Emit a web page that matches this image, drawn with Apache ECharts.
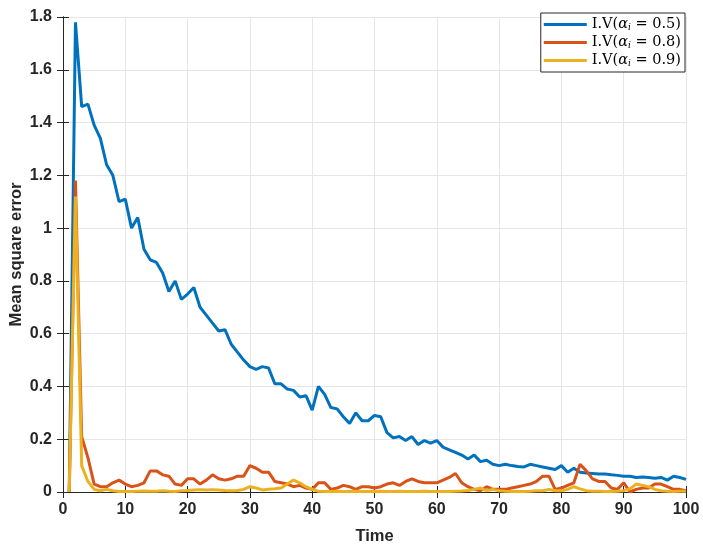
<!DOCTYPE html>
<html>
<head>
<meta charset="utf-8">
<script src="https://cdn.jsdelivr.net/npm/echarts@6/dist/echarts.min.js"></script>
<style>
  html, body { margin: 0; padding: 0; background: #fff; }
  #chart { width: 703px; height: 549px; }
</style>
</head>
<body>
<div id="chart"></div>
<script>
// time steps 1..100
const steps = Array.from({ length: 100 }, (_, i) => i + 1)

// alpha_i = 0.5
const blueVals = [
  0, 1.78, 1.46, 1.47, 1.39, 1.34, 1.24, 1.20, 1.10, 1.11,
  1.00, 1.04, 0.92, 0.88, 0.87, 0.83, 0.76, 0.80, 0.73, 0.75,
  0.775, 0.70, 0.67, 0.64, 0.61, 0.615, 0.56, 0.53, 0.50, 0.475,
  0.465, 0.475, 0.47, 0.41, 0.41, 0.39, 0.385, 0.36, 0.365, 0.31,
  0.40, 0.37, 0.32, 0.315, 0.285, 0.26, 0.30, 0.27, 0.27, 0.29,
  0.285, 0.225, 0.205, 0.21, 0.195, 0.21, 0.18, 0.195, 0.185, 0.195,
  0.17, 0.16, 0.15, 0.14, 0.125, 0.14, 0.115, 0.12, 0.105, 0.10,
  0.105, 0.10, 0.097, 0.095, 0.105, 0.10, 0.095, 0.09, 0.085, 0.10,
  0.075, 0.09, 0.075, 0.072, 0.07, 0.068, 0.068, 0.065, 0.063, 0.06,
  0.06, 0.055, 0.057, 0.055, 0.052, 0.055, 0.045, 0.06, 0.055, 0.048
]

// alpha_i = 0.8
const orangeVals = [
  0, 1.18, 0.21, 0.13, 0.03, 0.02, 0.02, 0.035, 0.045, 0.03,
  0.02, 0.025, 0.035, 0.08, 0.08, 0.065, 0.06, 0.03, 0.025, 0.05,
  0.05, 0.03, 0.045, 0.065, 0.05, 0.045, 0.05, 0.06, 0.06, 0.10,
  0.09, 0.075, 0.075, 0.04, 0.035, 0.03, 0.02, 0.025, 0.015, 0.01,
  0.035, 0.035, 0.01, 0.015, 0.025, 0.02, 0.01, 0.02, 0.02, 0.015,
  0.02, 0.03, 0.035, 0.025, 0.04, 0.05, 0.04, 0.035, 0.035, 0.035,
  0.045, 0.055, 0.07, 0.035, 0.02, 0.01, 0.005, 0.02, 0.01, 0.01,
  0.01, 0.015, 0.02, 0.025, 0.03, 0.04, 0.06, 0.06, 0.01, 0.015,
  0.025, 0.035, 0.105, 0.08, 0.05, 0.04, 0.04, 0.015, 0.01, 0.035,
  0.0, 0.01, 0.015, 0.015, 0.03, 0.03, 0.02, 0.01, 0.01, 0.005
]

// alpha_i = 0.9
const yellowVals = [
  0, 1.12, 0.10, 0.04, 0.01, 0.005, 0.01, 0.005, 0.002, 0.002,
  0.002, 0.003, 0.004, 0.003, 0.003, 0.005, 0.003, 0.002, 0.005, 0.006,
  0.008, 0.009, 0.008, 0.009, 0.008, 0.006, 0.005, 0.006, 0.01, 0.02,
  0.015, 0.008, 0.01, 0.012, 0.015, 0.03, 0.045, 0.035, 0.02, 0.01,
  0.003, 0.002, 0.002, 0.003, 0.002, 0.002, 0.003, 0.002, 0.002, 0.002,
  0.003, 0.002, 0.002, 0.003, 0.002, 0.002, 0.002, 0.003, 0.002, 0.002,
  0.002, 0.002, 0.003, 0.004, 0.006, 0.01, 0.015, 0.005, 0.01, 0.005,
  0.003, 0.002, 0.002, 0.002, 0.003, 0.005, 0.005, 0.01, 0.005, 0.005,
  0.01, 0.02, 0.012, 0.005, 0.003, 0.003, 0.002, 0.002, 0.003, 0.005,
  0.012, 0.03, 0.025, 0.02, 0.01, 0.005, 0.003, 0.002, 0.003, 0.003
]

const seriesNames = ['0.5', '0.8', '0.9']

const pairs = (vals) => vals.map((v, i) => [steps[i], v])

const chart = echarts.init(document.getElementById('chart'))

const gridLine = { show: true, lineStyle: { color: '#e6e6e6', width: 1 } }
const tickIn = { show: true, inside: true, length: 6, lineStyle: { color: '#262626' } }
const axisLineStyle = { show: true, lineStyle: { color: '#262626', width: 1 } }
const tickFont = { fontFamily: 'Liberation Sans', fontSize: 16, fontWeight: 'bold', color: '#262626' }

const options = {
  animation: false,
  color: ['#0072BD', '#D95319', '#EDB120'],
  grid: { left: 63, right: 17, top: 17, bottom: 57, outerBoundsMode: 'none', containLabel: false },
  legend: {
    orient: 'vertical',
    right: 18,
    top: 13,
    padding: [4, 4, 4, 3],
    itemGap: 3,
    itemWidth: 43,
    itemHeight: 13,
    borderColor: '#262626',
    borderWidth: 1,
    backgroundColor: '#fff',
    icon: 'path://M0,5 L43,5 L43,8 L0,8 Z',
    formatter: (name) => '{n|I.V(}{a|α}{s|i}{n| = ' + name + ')}',
    textStyle: {
      rich: {
        n: { fontFamily: 'DejaVu Serif', fontSize: 14.5, color: '#000' },
        a: { fontFamily: 'DejaVu Serif', fontStyle: 'italic', fontSize: 14.5, color: '#000' },
        s: { fontFamily: 'DejaVu Serif', fontStyle: 'italic', fontSize: 9, color: '#000', verticalAlign: 'bottom', padding: [6, 0, 0, 0] }
      }
    },
    data: seriesNames
  },
  xAxis: [
    {
      type: 'value',
      min: 0,
      max: 100,
      interval: 10,
      name: 'Time',
      nameLocation: 'middle',
      nameGap: 36,
      nameMoveOverlap: false,
      nameTextStyle: { fontFamily: 'Liberation Sans', fontWeight: 'bold', fontSize: 16.5, color: '#262626' },
      axisLine: axisLineStyle,
      axisTick: tickIn,
      axisLabel: Object.assign({ margin: 10 }, tickFont),
      splitLine: gridLine
    },
    {
      type: 'value',
      position: 'top',
      min: 0,
      max: 100,
      interval: 10,
      axisLine: axisLineStyle,
      axisTick: tickIn,
      axisLabel: { show: false },
      splitLine: { show: false }
    }
  ],
  yAxis: [
    {
      type: 'value',
      min: 0,
      max: 1.8,
      interval: 0.2,
      name: 'Mean square error',
      nameLocation: 'middle',
      nameGap: 38,
      nameMoveOverlap: false,
      nameTextStyle: { fontFamily: 'Liberation Sans', fontWeight: 'bold', fontSize: 16.5, color: '#262626' },
      axisLine: axisLineStyle,
      axisTick: tickIn,
      axisLabel: Object.assign({
        margin: 11,
        formatter: (v) => String(Math.round(v * 10) / 10)
      }, tickFont),
      splitLine: gridLine
    },
    {
      type: 'value',
      position: 'right',
      min: 0,
      max: 1.8,
      interval: 0.2,
      axisLine: axisLineStyle,
      axisTick: tickIn,
      axisLabel: { show: false },
      splitLine: { show: false }
    }
  ],
  series: [
    { name: seriesNames[0], type: 'line', showSymbol: false, lineStyle: { width: 3 }, data: pairs(blueVals) },
    { name: seriesNames[1], type: 'line', showSymbol: false, lineStyle: { width: 3 }, data: pairs(orangeVals) },
    { name: seriesNames[2], type: 'line', showSymbol: false, lineStyle: { width: 3 }, data: pairs(yellowVals) }
  ]
}

chart.setOption(options)
</script>
</body>
</html>
